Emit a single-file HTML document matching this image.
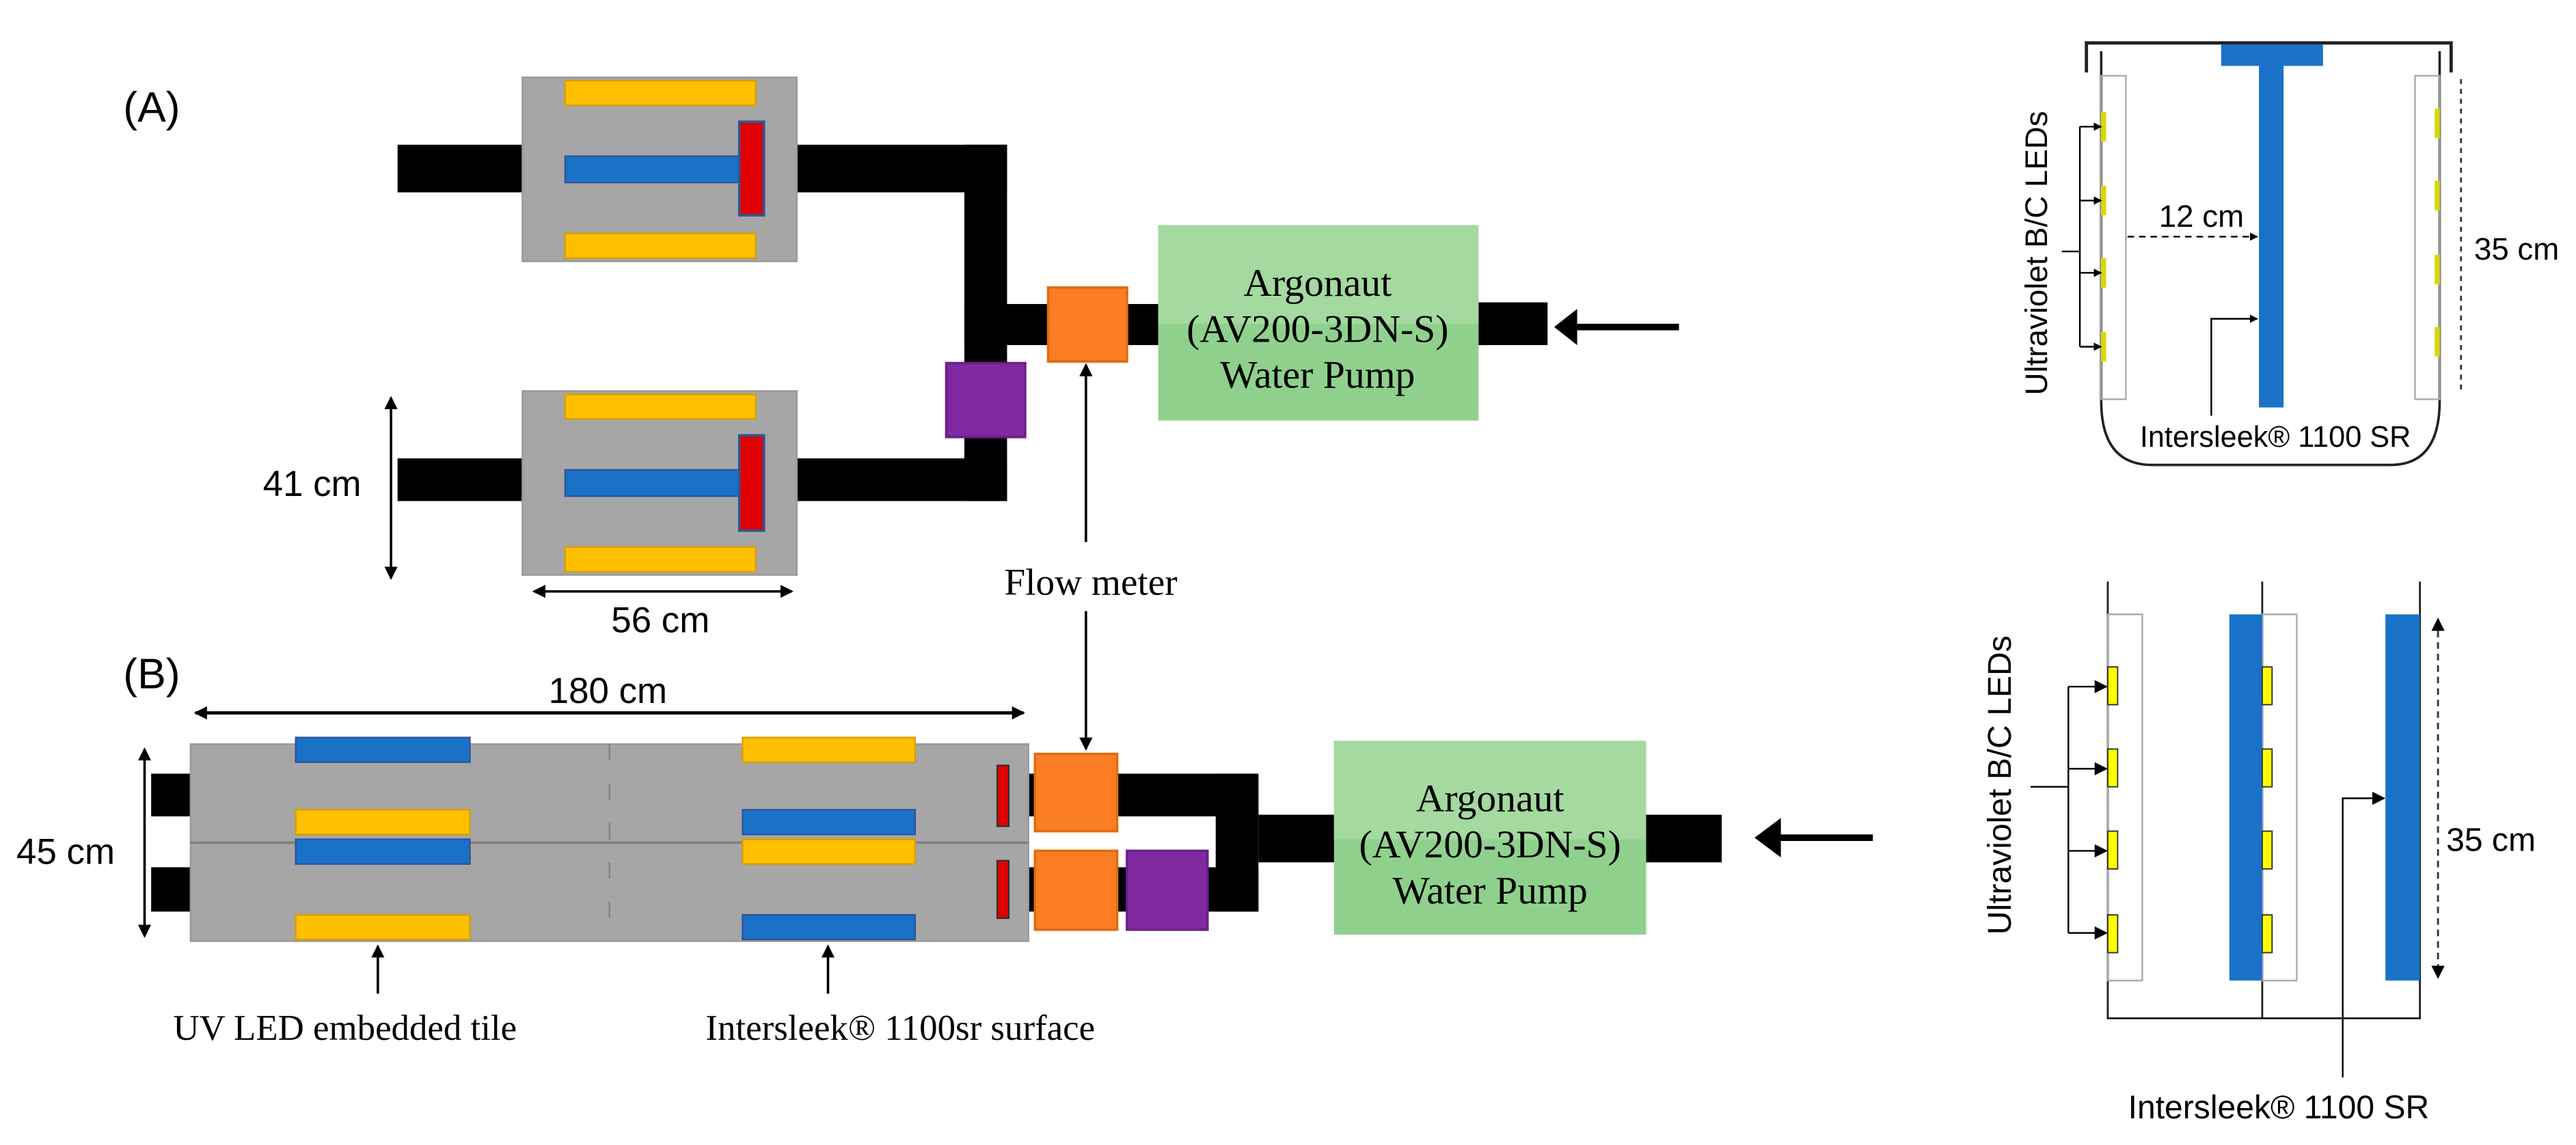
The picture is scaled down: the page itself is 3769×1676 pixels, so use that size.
<!DOCTYPE html>
<html><head><meta charset="utf-8"><style>
html,body{margin:0;padding:0;background:#fff;}
svg{display:block;}
.s{font-family:"Liberation Sans",sans-serif;}
.r{font-family:"Liberation Serif",serif;}
</style></head><body>
<svg width="3769" height="1676" viewBox="0 0 1568 697" xmlns="http://www.w3.org/2000/svg">
<defs>
<marker id="a" markerWidth="8" markerHeight="8" refX="7" refY="4" orient="auto-start-reverse" markerUnits="userSpaceOnUse"><path d="M0,0 L8,4 L0,8 z" fill="#000"/></marker>
<marker id="c" markerWidth="5" markerHeight="5" refX="4.5" refY="2.5" orient="auto-start-reverse" markerUnits="userSpaceOnUse"><path d="M0,0 L5,2.5 L0,5 z" fill="#000"/></marker>
</defs>
<rect width="1568" height="697" fill="#fff"/>

<!-- (A) -->
<text x="75" y="74" class="s" font-size="26">(A)</text>
<rect x="242" y="88" width="80" height="29" fill="#000"/>
<rect x="480" y="88" width="133" height="29" fill="#000"/>
<rect x="587" y="88" width="26" height="217" fill="#000"/>
<rect x="242" y="279" width="80" height="26" fill="#000"/>
<rect x="480" y="279" width="133" height="26" fill="#000"/>
<rect x="587" y="185" width="320" height="25" fill="#000"/>
<rect x="900" y="184" width="42" height="26" fill="#000"/>
<rect x="318" y="47" width="167" height="112" fill="#a6a6a6" stroke="#999" stroke-width="1"/>
<rect x="344" y="49" width="116" height="15" fill="#ffc000" stroke="#d6a000" stroke-width="1"/>
<rect x="344" y="142" width="116" height="15" fill="#ffc000" stroke="#d6a000" stroke-width="1"/>
<rect x="344" y="95" width="108" height="16" fill="#1a72c8" stroke="#2f5597" stroke-width="1"/>
<rect x="450" y="74" width="15" height="57" fill="#e00000" stroke="#2f5597" stroke-width="1.5"/>
<rect x="318" y="238" width="167" height="112" fill="#a6a6a6" stroke="#999" stroke-width="1"/>
<rect x="344" y="240" width="116" height="15" fill="#ffc000" stroke="#d6a000" stroke-width="1"/>
<rect x="344" y="333" width="116" height="15" fill="#ffc000" stroke="#d6a000" stroke-width="1"/>
<rect x="344" y="286" width="108" height="16" fill="#1a72c8" stroke="#2f5597" stroke-width="1"/>
<rect x="450" y="265" width="15" height="58" fill="#e00000" stroke="#2f5597" stroke-width="1.5"/>
<rect x="576" y="221" width="48" height="45" fill="#7f2aa0" stroke="#6a1f8a" stroke-width="1.5"/>
<rect x="638" y="175" width="48" height="45" fill="#fb7e25" stroke="#e06a10" stroke-width="1.5"/>
<rect x="705" y="137" width="195" height="119" fill="#8fd18c"/>
<rect x="705" y="137" width="195" height="60" fill="#a4d9a0"/>
<text class="r" font-size="24" text-anchor="middle" x="802" y="180">Argonaut</text>
<text class="r" font-size="24" text-anchor="middle" x="802" y="208">(AV200-3DN-S)</text>
<text class="r" font-size="24" text-anchor="middle" x="802" y="236">Water Pump</text>
<line x1="1022" y1="199" x2="958" y2="199" stroke="#000" stroke-width="4"/>
<path d="M946,199 L960,188 L960,210 z" fill="#000"/>
<line x1="238" y1="242" x2="238" y2="352" stroke="#000" stroke-width="1.5" marker-start="url(#a)" marker-end="url(#a)"/>
<text class="s" font-size="22" x="160" y="302">41 cm</text>
<line x1="325" y1="360" x2="482" y2="360" stroke="#000" stroke-width="1.5" marker-start="url(#a)" marker-end="url(#a)"/>
<text class="s" font-size="22" x="402" y="385" text-anchor="middle">56 cm</text>
<text class="r" font-size="23" x="664" y="362" text-anchor="middle">Flow meter</text>
<line x1="661" y1="330" x2="661" y2="222" stroke="#000" stroke-width="1.5" marker-end="url(#a)"/>
<line x1="661" y1="372" x2="661" y2="456" stroke="#000" stroke-width="1.5" marker-end="url(#a)"/>

<!-- (B) -->
<text x="75" y="419" class="s" font-size="26">(B)</text>
<line x1="119" y1="434" x2="623" y2="434" stroke="#000" stroke-width="2" marker-start="url(#a)" marker-end="url(#a)"/>
<text class="s" font-size="22" x="370" y="428" text-anchor="middle">180 cm</text>
<rect x="92" y="471" width="28" height="26" fill="#000"/>
<rect x="92" y="528" width="28" height="27" fill="#000"/>
<rect x="612" y="471" width="154" height="26" fill="#000"/>
<rect x="740" y="471" width="26" height="84" fill="#000"/>
<rect x="612" y="528" width="154" height="27" fill="#000"/>
<rect x="766" y="496" width="50" height="29" fill="#000"/>
<rect x="1000" y="496" width="48" height="29" fill="#000"/>
<rect x="116" y="453" width="510" height="120" fill="#a6a6a6" stroke="#999" stroke-width="1"/>
<line x1="116" y1="513" x2="626" y2="513" stroke="#808080" stroke-width="1.5"/>
<line x1="371" y1="453" x2="371" y2="573" stroke="#808080" stroke-width="1" stroke-dasharray="10,14"/>
<rect x="180" y="449" width="106" height="15" fill="#1a72c8" stroke="#2f5597" stroke-width="1"/>
<rect x="452" y="449" width="105" height="15" fill="#ffc000" stroke="#d6a000" stroke-width="1"/>
<rect x="180" y="493" width="106" height="15" fill="#ffc000" stroke="#d6a000" stroke-width="1"/>
<rect x="452" y="493" width="105" height="15" fill="#1a72c8" stroke="#2f5597" stroke-width="1"/>
<rect x="180" y="511" width="106" height="15" fill="#1a72c8" stroke="#2f5597" stroke-width="1"/>
<rect x="452" y="511" width="105" height="15" fill="#ffc000" stroke="#d6a000" stroke-width="1"/>
<rect x="180" y="557" width="106" height="15" fill="#ffc000" stroke="#d6a000" stroke-width="1"/>
<rect x="452" y="557" width="105" height="15" fill="#1a72c8" stroke="#2f5597" stroke-width="1"/>
<rect x="607" y="466" width="7" height="37" fill="#e00000" stroke="#333" stroke-width="1"/>
<rect x="607" y="524" width="7" height="35" fill="#e00000" stroke="#333" stroke-width="1"/>
<rect x="630" y="459" width="50" height="47" fill="#fb7e25" stroke="#e06a10" stroke-width="1.5"/>
<rect x="630" y="518" width="50" height="48" fill="#fb7e25" stroke="#e06a10" stroke-width="1.5"/>
<rect x="686" y="518" width="49" height="48" fill="#7f2aa0" stroke="#6a1f8a" stroke-width="1.5"/>
<rect x="812" y="451" width="190" height="118" fill="#8fd18c"/>
<rect x="812" y="451" width="190" height="60" fill="#a4d9a0"/>
<text class="r" font-size="24" text-anchor="middle" x="907" y="494">Argonaut</text>
<text class="r" font-size="24" text-anchor="middle" x="907" y="522">(AV200-3DN-S)</text>
<text class="r" font-size="24" text-anchor="middle" x="907" y="550">Water Pump</text>
<line x1="1140" y1="510" x2="1082" y2="510" stroke="#000" stroke-width="4"/>
<path d="M1068,510 L1084,498 L1084,522 z" fill="#000"/>
<line x1="88" y1="456" x2="88" y2="570" stroke="#000" stroke-width="1.5" marker-start="url(#a)" marker-end="url(#a)"/>
<text class="s" font-size="22" x="10" y="526">45 cm</text>
<line x1="230" y1="605" x2="230" y2="576" stroke="#000" stroke-width="1.5" marker-end="url(#a)"/>
<line x1="504" y1="605" x2="504" y2="576" stroke="#000" stroke-width="1.5" marker-end="url(#a)"/>
<text class="r" font-size="22" x="210" y="633" text-anchor="middle">UV LED embedded tile</text>
<text class="r" font-size="22" x="548" y="633" text-anchor="middle">Intersleek® 1100sr surface</text>

<!-- right top -->
<path d="M1270,44 L1270,26 L1492,26 L1492,44" fill="none" stroke="#222" stroke-width="2"/>
<path d="M1279,31 L1279,244 Q1279,283 1310,283 L1455,283 Q1485,283 1485,244 L1485,31" fill="none" stroke="#222" stroke-width="1.5"/>
<rect x="1352" y="27" width="62" height="13" fill="#1a72c8"/>
<rect x="1375" y="40" width="15" height="208" fill="#1a72c8"/>
<rect x="1279" y="46" width="15" height="197" fill="none" stroke="#aaa" stroke-width="1"/>
<rect x="1470" y="46" width="15" height="197" fill="none" stroke="#aaa" stroke-width="1"/>
<g fill="#d8d800">
<rect x="1279" y="68" width="3" height="18"/><rect x="1279" y="113" width="3" height="18"/><rect x="1279" y="157" width="3" height="18"/><rect x="1279" y="202" width="3" height="18"/>
<rect x="1482" y="66" width="3" height="18"/><rect x="1482" y="110" width="3" height="18"/><rect x="1482" y="155" width="3" height="18"/><rect x="1482" y="199" width="3" height="18"/>
</g>
<g stroke="#000" stroke-width="1" fill="none">
<path d="M1266,77 L1266,211 M1255,153 L1266,153"/>
<line x1="1266" y1="77" x2="1279" y2="77" marker-end="url(#c)"/>
<line x1="1266" y1="122" x2="1279" y2="122" marker-end="url(#c)"/>
<line x1="1266" y1="166" x2="1279" y2="166" marker-end="url(#c)"/>
<line x1="1266" y1="211" x2="1279" y2="211" marker-end="url(#c)"/>
</g>
<text class="s" font-size="19" transform="translate(1246,154) rotate(-90)" text-anchor="middle">Ultraviolet B/C LEDs</text>
<line x1="1295" y1="144" x2="1374" y2="144" stroke="#000" stroke-width="1" stroke-dasharray="4,3" marker-end="url(#c)"/>
<text class="s" font-size="19" x="1340" y="138" text-anchor="middle">12 cm</text>
<path d="M1346,253 L1346,194 L1374,194" fill="none" stroke="#000" stroke-width="1" marker-end="url(#c)"/>
<text class="s" font-size="18" x="1385" y="272" text-anchor="middle">Intersleek® 1100 SR</text>
<line x1="1498" y1="48" x2="1498" y2="240" stroke="#333" stroke-width="1.2" stroke-dasharray="3,3"/>
<text class="s" font-size="19" x="1506" y="158">35 cm</text>

<!-- right bottom -->
<g stroke="#222" stroke-width="1.2" fill="none">
<path d="M1283,354 L1283,620 L1473,620 L1473,354 M1377,354 L1377,620"/>
</g>
<rect x="1283" y="374" width="21" height="223" fill="none" stroke="#aaa" stroke-width="1"/>
<rect x="1377" y="374" width="21" height="223" fill="none" stroke="#aaa" stroke-width="1"/>
<rect x="1357" y="374" width="20" height="223" fill="#1a72c8"/>
<rect x="1452" y="374" width="21" height="223" fill="#1a72c8"/>
<g fill="#ffff00" stroke="#333" stroke-width="0.8">
<rect x="1283" y="406" width="6" height="23"/><rect x="1283" y="456" width="6" height="23"/><rect x="1283" y="506" width="6" height="23"/><rect x="1283" y="557" width="6" height="23"/>
<rect x="1377" y="406" width="6" height="23"/><rect x="1377" y="456" width="6" height="23"/><rect x="1377" y="506" width="6" height="23"/><rect x="1377" y="557" width="6" height="23"/>
</g>
<g stroke="#000" stroke-width="1" fill="none">
<path d="M1259,418 L1259,568 M1236,479 L1259,479"/>
<line x1="1259" y1="418" x2="1282" y2="418" marker-end="url(#a)"/>
<line x1="1259" y1="468" x2="1282" y2="468" marker-end="url(#a)"/>
<line x1="1259" y1="518" x2="1282" y2="518" marker-end="url(#a)"/>
<line x1="1259" y1="568" x2="1282" y2="568" marker-end="url(#a)"/>
</g>
<text class="s" font-size="20" transform="translate(1224,478) rotate(-90)" text-anchor="middle">Ultraviolet B/C LEDs</text>
<line x1="1484" y1="377" x2="1484" y2="595" stroke="#333" stroke-width="1.2" stroke-dasharray="4,3" marker-start="url(#a)" marker-end="url(#a)"/>
<text class="s" font-size="20" x="1489" y="518">35 cm</text>
<path d="M1426,656 L1426,486 L1451,486" fill="none" stroke="#000" stroke-width="1" marker-end="url(#a)"/>
<text class="s" font-size="20" x="1387" y="681" text-anchor="middle">Intersleek® 1100 SR</text>
</svg>
</body></html>
